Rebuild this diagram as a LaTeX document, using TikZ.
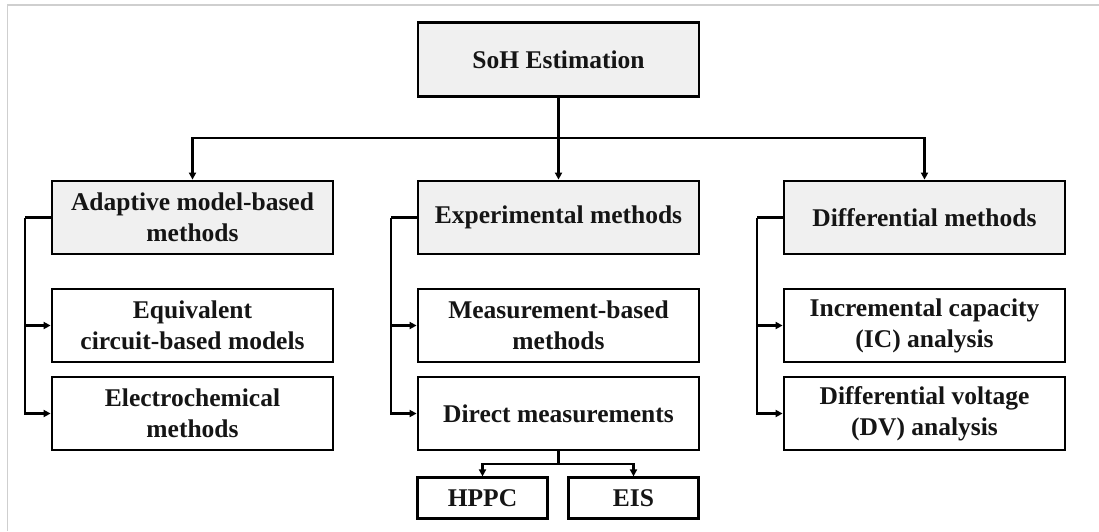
\documentclass[tikz,border=0pt]{standalone}
\usepackage{fontspec}
\setmainfont{Liberation Serif}
\usetikzlibrary{arrows.meta,calc}
\definecolor{boxgray}{HTML}{F0F0F0}
\definecolor{framegray}{HTML}{CFCFCF}
\definecolor{inkblack}{HTML}{151515}
\begin{document}
\begin{tikzpicture}[x=1pt,y=-1pt,
  every node/.style={font=\fontsize{25.5}{31}\selectfont\bfseries, text=inkblack,
    align=center, inner sep=0pt},
  basebox/.style={draw=black, line width=2.8pt, minimum width=281pt},
  headbox/.style={basebox, fill=boxgray, minimum height=73pt},
  leafbox/.style={basebox, fill=white, minimum height=73pt},
  smallbox/.style={draw=black, line width=2.8pt, fill=white, minimum width=130pt, minimum height=41pt},
  link/.style={draw=black, line width=2.2pt},
  arrowlink/.style={link, -{Triangle[length=7pt,width=7pt]}}]

% canvas and outer frame
\useasboundingbox (0,0) rectangle (1099,531);
\draw[framegray, line width=1.6pt] (7.3,531) -- (7.3,5) -- (1099,5);

% root
\node[headbox, minimum height=74pt] (soh) at (558.5,59.5) {SoH Estimation};

% method families
\node[headbox] (ada) at (192.5,217.5) {Adaptive model-based\\methods};
\node[headbox] (exp) at (558.5,217.5) {Experimental methods};
\node[headbox] (dif) at (924.5,217.5) {Differential methods};

% leaves
\node[leafbox] (ecm)  at (192.5,325.5) {Equivalent\\circuit-based models};
\node[leafbox] (elec) at (192.5,413.5) {Electrochemical\\methods};
\node[leafbox] (meas) at (558.5,325.5) {Measurement-based\\methods};
\node[leafbox] (dir)  at (558.5,413.5) {Direct measurements};
\node[leafbox] (ic)   at (924.5,325.5) {Incremental capacity\\(IC) analysis};
\node[leafbox] (dv)   at (924.5,413.5) {Differential voltage\\(DV) analysis};

\node[smallbox] (hppc) at (482.5,498.3) {HPPC};
\node[smallbox] (eis)  at (633.5,498.3) {EIS};

% root to families
\coordinate (bus) at (558.5,138.3);
\draw[arrowlink] (soh.south) -- (exp.north);
\draw[arrowlink] (bus) -| (ada.north);
\draw[arrowlink] (bus) -| (dif.north);

% family branches
\foreach \fam/\top/\bot in {ada/ecm/elec, exp/meas/dir, dif/ic/dv}{
  \coordinate (br-\fam) at ($(\fam.west)+(-26,0)$);
  \draw[link] (\fam.west) -- (br-\fam);
  \draw[arrowlink] (br-\fam) |- (\top.west);
  \draw[arrowlink] (br-\fam) |- (\bot.west);
}

% direct measurement techniques
\coordinate (split) at ($(dir.south)+(0,12.5)$);
\draw[link] (dir.south) -- (split);
\draw[arrowlink] (split) -| (hppc.north);
\draw[arrowlink] (split) -| (eis.north);
\end{tikzpicture}
\end{document}
